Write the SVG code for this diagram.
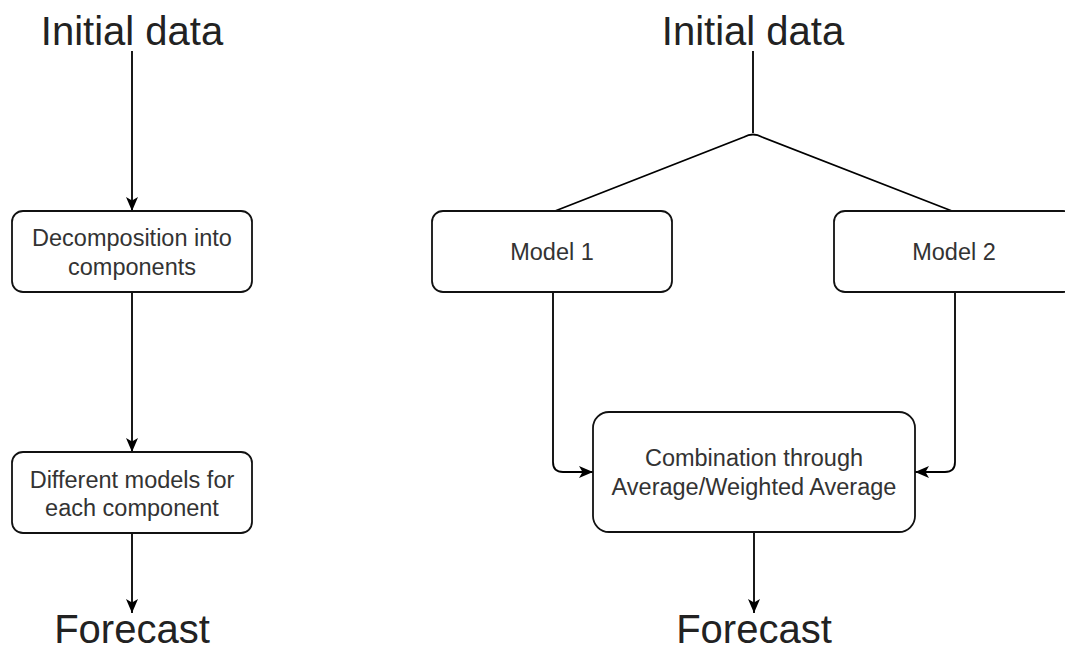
<svg xmlns="http://www.w3.org/2000/svg" width="1065" height="651" viewBox="0 0 1065 651">
<defs>
<style>
.big{font-family:"Liberation Sans",Arial,sans-serif;font-size:40px;fill:#222;text-anchor:middle}
.lbl{font-family:"Liberation Sans",Arial,sans-serif;font-size:23.5px;fill:#333;text-anchor:middle}
.box{fill:#fff;stroke:#111;stroke-width:1.8}
.edge{fill:none;stroke:#000;stroke-width:1.8}
</style>
<marker id="arr" markerUnits="userSpaceOnUse" markerWidth="16" markerHeight="14" refX="14" refY="7" orient="auto">
<path d="M0,1 L14,7 L0,13 L3.5,7 Z" fill="#000"/>
</marker>
</defs>
<rect width="1065" height="651" fill="#fff"/>
<g id="connectors">
<path class="edge" d="M132,51 L132,211" marker-end="url(#arr)"/>
<path class="edge" d="M132,292 L132,452" marker-end="url(#arr)"/>
<path class="edge" d="M132,533 L132,613" marker-end="url(#arr)"/>
<path class="edge" d="M753,51 L753,133"/>
<path class="edge" d="M555,211 L744,137 Q753,132 762,137 L952,211"/>
<path class="edge" d="M553,292 L553,462 Q553,472 563,472 L593,472" marker-end="url(#arr)"/>
<path class="edge" d="M955,292 L955,462 Q955,472 945,472 L915,472" marker-end="url(#arr)"/>
<path class="edge" d="M754,532 L754,613" marker-end="url(#arr)"/>
</g>
<g id="init-left"><text class="big" x="132" y="45">Initial data</text></g>
<g id="decomp">
<rect class="box" x="12" y="211" width="240" height="81" rx="11"/>
<text class="lbl" x="132" y="246">Decomposition into</text>
<text class="lbl" x="132" y="275">components</text>
</g>
<g id="diffmodels">
<rect class="box" x="12" y="452" width="240" height="81" rx="11"/>
<text class="lbl" x="132" y="488">Different models for</text>
<text class="lbl" x="132" y="516">each component</text>
</g>
<g id="forecast-left"><text class="big" x="132" y="643">Forecast</text></g>
<g id="init-right"><text class="big" x="753" y="45">Initial data</text></g>
<g id="model1">
<rect class="box" x="432" y="211" width="240" height="81" rx="11"/>
<text class="lbl" x="552" y="260">Model 1</text>
</g>
<g id="model2">
<rect class="box" x="834" y="211" width="240" height="81" rx="11"/>
<text class="lbl" x="954" y="260">Model 2</text>
</g>
<g id="combination">
<rect class="box" x="593" y="412" width="322" height="120" rx="16"/>
<text class="lbl" x="754" y="466">Combination through</text>
<text class="lbl" x="754" y="495">Average/Weighted Average</text>
</g>
<g id="forecast-right"><text class="big" x="754" y="643">Forecast</text></g>
</svg>
